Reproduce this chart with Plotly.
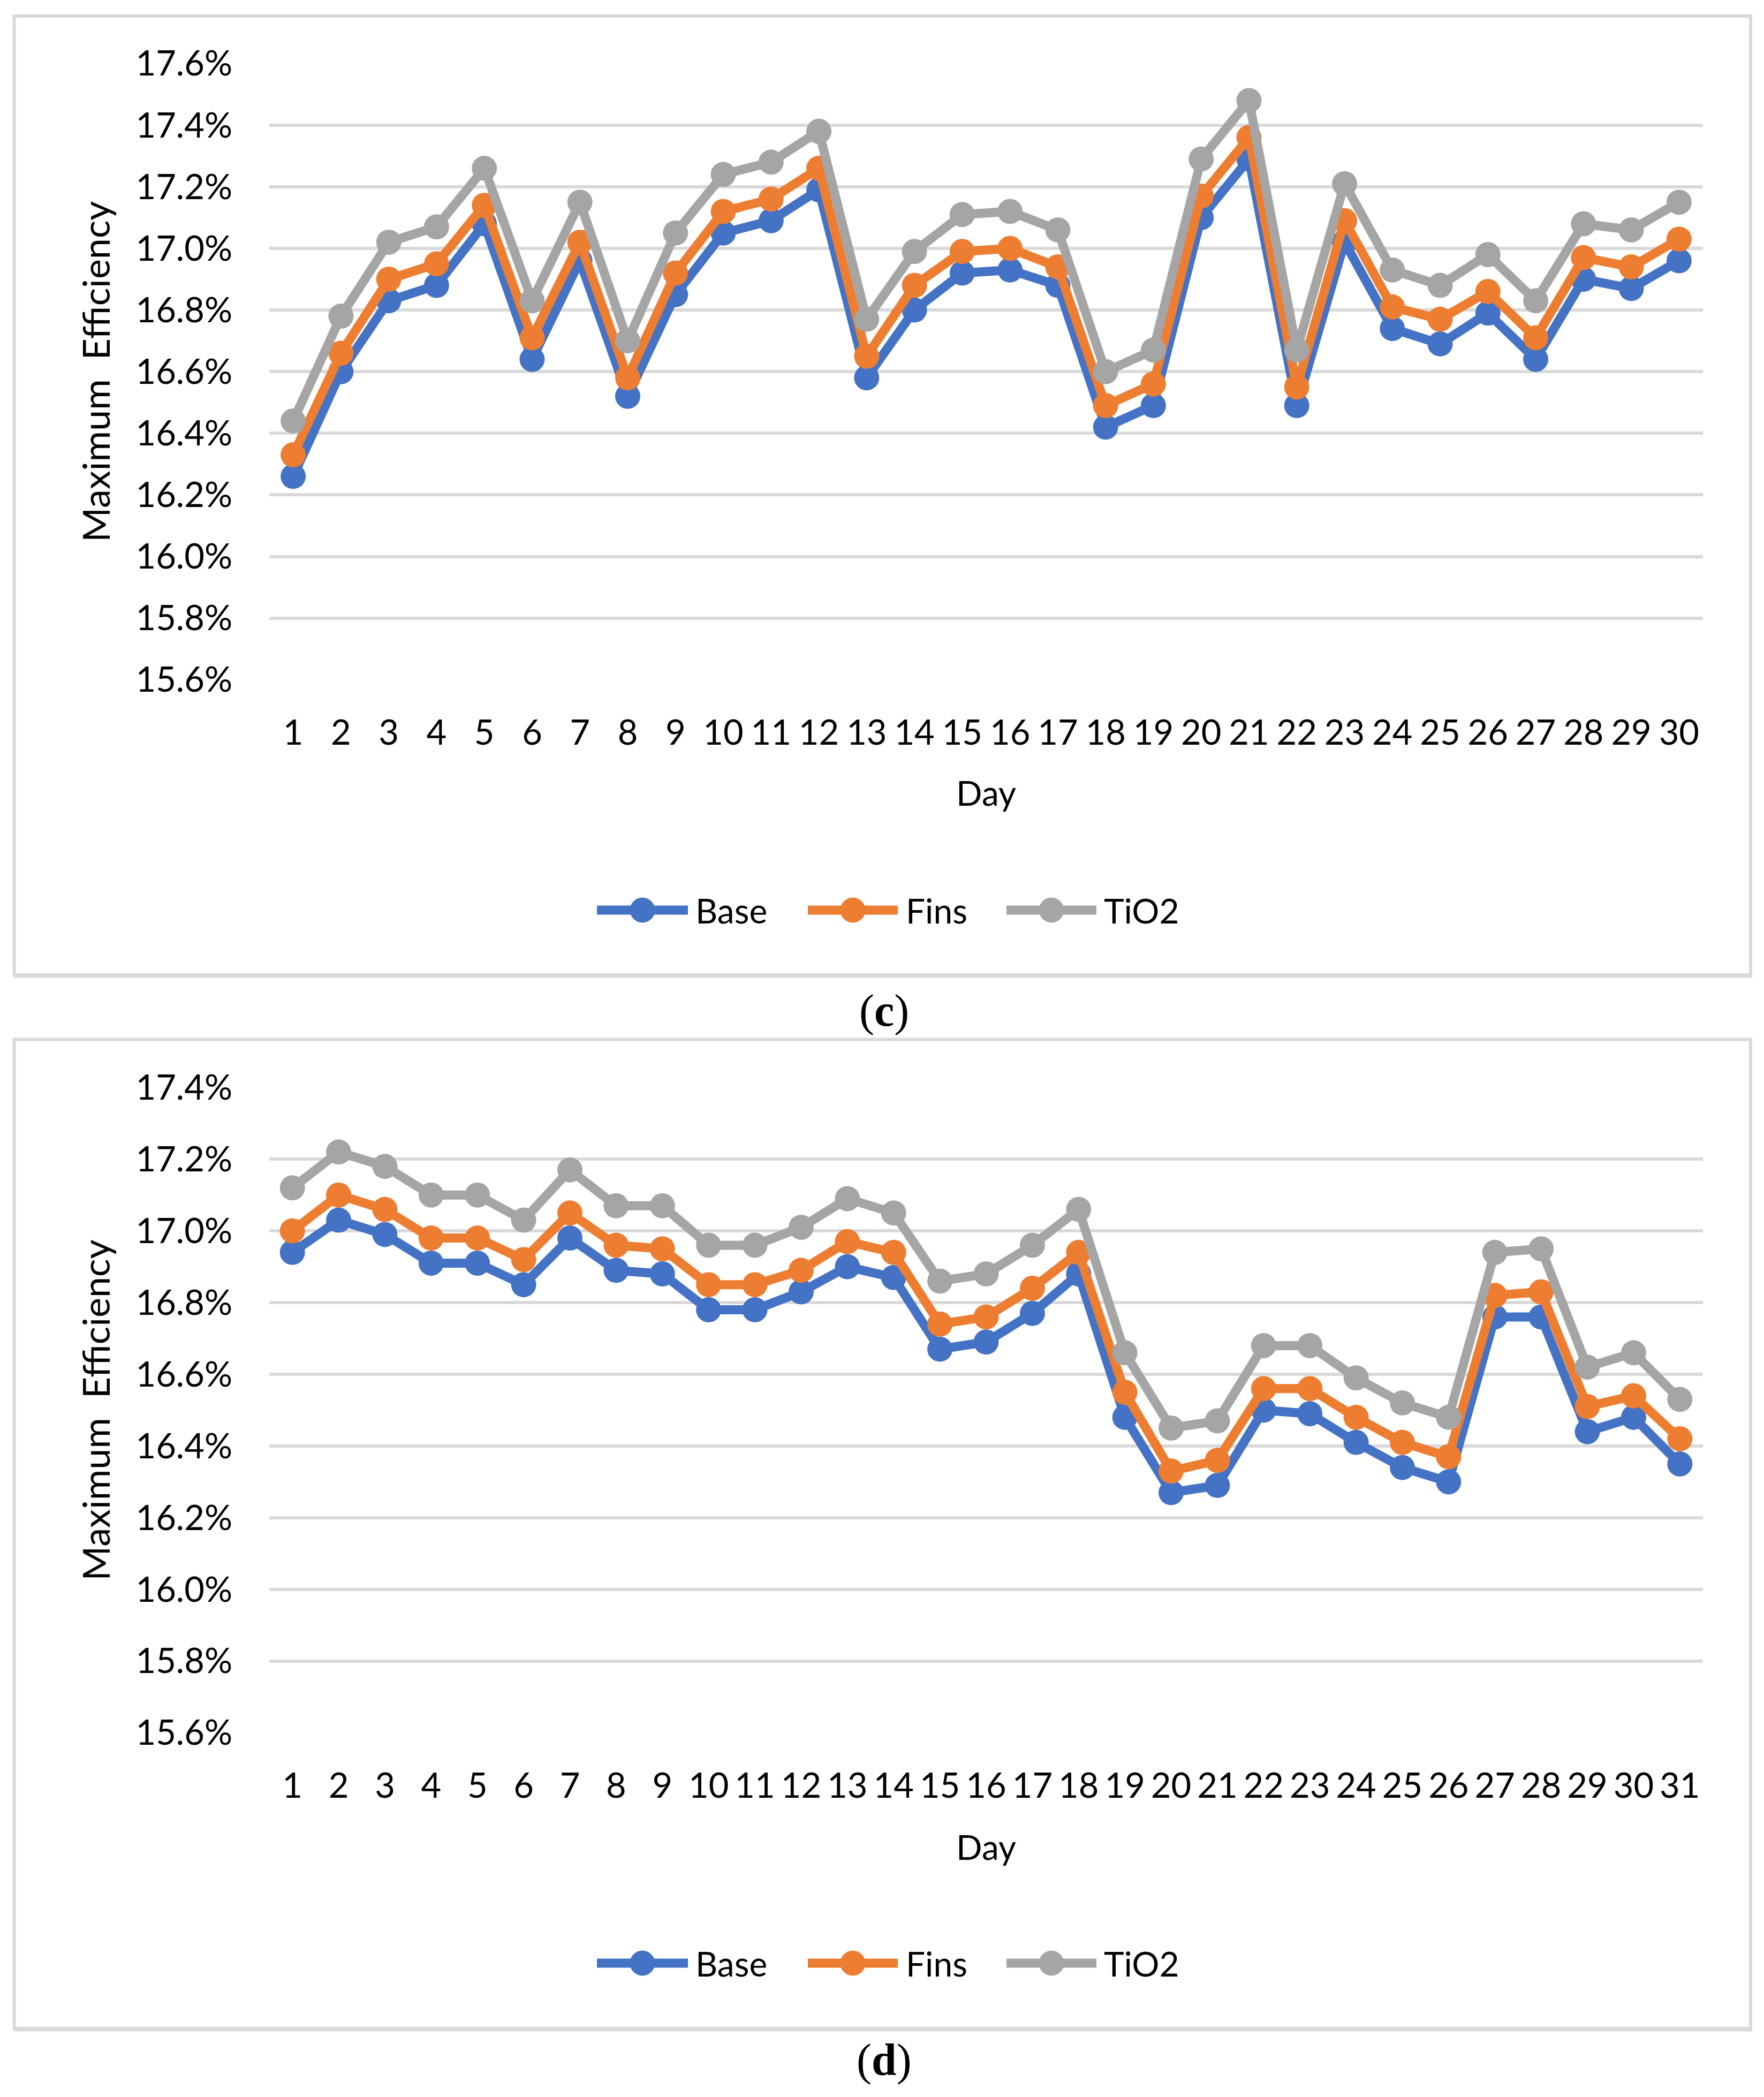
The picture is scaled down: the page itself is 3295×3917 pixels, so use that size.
import plotly.graph_objects as go

W, H = 3295, 3917
OFF = 8  # page body margin of the written html

# ---------------- data ----------------
days_c = list(range(1, 31))
days_d = list(range(1, 32))

base_c = [16.26, 16.60, 16.83, 16.88, 17.08, 16.64, 16.96, 16.52, 16.85, 17.05,
          17.09, 17.19, 16.58, 16.80, 16.92, 16.93, 16.88, 16.42, 16.49, 17.10,
          17.29, 16.49, 17.02, 16.74, 16.69, 16.79, 16.64, 16.90, 16.87, 16.96]
fins_c = [16.33, 16.66, 16.90, 16.95, 17.14, 16.71, 17.02, 16.58, 16.92, 17.12,
          17.16, 17.26, 16.65, 16.88, 16.99, 17.00, 16.94, 16.49, 16.56, 17.17,
          17.36, 16.55, 17.09, 16.81, 16.77, 16.86, 16.71, 16.97, 16.94, 17.03]
tio2_c = [16.44, 16.78, 17.02, 17.07, 17.26, 16.83, 17.15, 16.70, 17.05, 17.24,
          17.28, 17.38, 16.77, 16.99, 17.11, 17.12, 17.06, 16.60, 16.67, 17.29,
          17.48, 16.67, 17.21, 16.93, 16.88, 16.98, 16.83, 17.08, 17.06, 17.15]

base_d = [16.94, 17.03, 16.99, 16.91, 16.91, 16.85, 16.98, 16.89, 16.88, 16.78,
          16.78, 16.83, 16.90, 16.87, 16.67, 16.69, 16.77, 16.88, 16.48, 16.27,
          16.29, 16.50, 16.49, 16.41, 16.34, 16.30, 16.76, 16.76, 16.44, 16.48, 16.35]
fins_d = [17.00, 17.10, 17.06, 16.98, 16.98, 16.92, 17.05, 16.96, 16.95, 16.85,
          16.85, 16.89, 16.97, 16.94, 16.74, 16.76, 16.84, 16.94, 16.55, 16.33,
          16.36, 16.56, 16.56, 16.48, 16.41, 16.37, 16.82, 16.83, 16.51, 16.54, 16.42]
tio2_d = [17.12, 17.22, 17.18, 17.10, 17.10, 17.03, 17.17, 17.07, 17.07, 16.96,
          16.96, 17.01, 17.09, 17.05, 16.86, 16.88, 16.96, 17.06, 16.66, 16.45,
          16.47, 16.68, 16.68, 16.59, 16.52, 16.48, 16.94, 16.95, 16.62, 16.66, 16.53]

series_names = ["Base", "Fins", "TiO2"]
colors = ["#4472C4", "#ED7D31", "#A5A5A5"]
captions = ["c", "d"]
x_title = "Day"
y_title = "Maximum\u00a0 Efficiency"

# ---------------- helpers ----------------
def px(x):
    return (x - OFF) / W


def py(y):
    return 1 - (y - OFF) / H


FONT = "Lato"
GRID = "#D9D9D9"
LW = 17
MS = 47

fig = go.Figure()
for name, col, vals in zip(series_names, colors, [base_c, fins_c, tio2_c]):
    fig.add_trace(go.Scatter(x=days_c, y=vals, name=name, mode="lines+markers",
                             line=dict(color=col, width=LW),
                             marker=dict(color=col, size=MS),
                             xaxis="x", yaxis="y", showlegend=False))
for name, col, vals in zip(series_names, colors, [base_d, fins_d, tio2_d]):
    fig.add_trace(go.Scatter(x=days_d, y=vals, name=name, mode="lines+markers",
                             line=dict(color=col, width=LW),
                             marker=dict(color=col, size=MS),
                             xaxis="x2", yaxis="y2", showlegend=False))

tickfont = dict(family=FONT, size=65, color="black")
xtitlefont = dict(family=FONT, size=64, color="black")
ytitlefont = dict(family=FONT, size=70, color="black")


def xaxis(days, anchor, title_standoff):
    return dict(domain=[px(503), px(3181)], range=[0.5, len(days) + 0.5],
                tickmode="array", tickvals=days, showgrid=False, zeroline=False,
                showline=False, ticks="", tickfont=tickfont, anchor=anchor,
                ticklabelstandoff=55, automargin=False,
                title=dict(text=x_title, font=xtitlefont, standoff=title_standoff))


def yaxis(top_px, bot_px, ymax, anchor):
    return dict(domain=[py(bot_px), py(top_px)], range=[15.5995, ymax + 0.0005],
                tick0=15.6, dtick=0.2, tickformat=".1f", ticksuffix="%",
                showgrid=True, gridcolor=GRID, gridwidth=6, zeroline=False,
                showline=False, ticks="", tickfont=tickfont, anchor=anchor,
                ticklabelstandoff=68, automargin=False,
                title=dict(text=y_title, font=ytitlefont, standoff=24))


shapes = []
annotations = []

panels = [  # outer frame top/bottom, legend centre y, caption centre y
    dict(top=30, bottom=1821, leg=1700, cap=1888),
    dict(top=1941.5, bottom=3789, leg=3667, cap=3848),
]
leg_lines = [(1111, 1289), (1505, 1681), (1876, 2052)]
leg_text_x = [1301, 1694, 2064]

for i, p in enumerate(panels):
    shapes.append(dict(type="rect", xref="paper", yref="paper",
                       x0=px(26.5), x1=px(3270), y0=py(p["bottom"]), y1=py(p["top"]),
                       line=dict(color=GRID, width=6), fillcolor="rgba(0,0,0,0)",
                       layer="below"))
    # slightly heavier bottom edge (frame shadow)
    shapes.append(dict(type="line", xref="paper", yref="paper",
                       x0=px(26.5), x1=px(3273), y0=py(p["bottom"] + 1.5),
                       y1=py(p["bottom"] + 1.5),
                       line=dict(color=GRID, width=8), layer="below"))
    for (lx0, lx1), tx, col, name in zip(leg_lines, leg_text_x, colors, series_names):
        cy = p["leg"]
        shapes.append(dict(type="line", xref="paper", yref="paper",
                           x0=px(lx0 + 4), x1=px(lx1 - 4), y0=py(cy), y1=py(cy),
                           line=dict(color=col, width=LW)))
        cx = (lx0 + lx1) / 2
        r = MS / 2
        shapes.append(dict(type="circle", xref="paper", yref="paper",
                           x0=px(cx - r), x1=px(cx + r), y0=py(cy + r), y1=py(cy - r),
                           fillcolor=col, line=dict(width=0)))
        annotations.append(dict(text=name, xref="paper", yref="paper",
                                x=px(tx - 4), y=py(cy), xanchor="left", yanchor="middle",
                                showarrow=False, font=dict(family=FONT, size=64, color="black")))
    annotations.append(dict(text="(<b>%s</b>)" % captions[i], xref="paper", yref="paper",
                            x=px(1651), y=py(p["cap"]), xanchor="center", yanchor="middle",
                            showarrow=False,
                            font=dict(family="Liberation Serif", size=84, color="black")))

fig.update_layout(
    width=W, height=H, margin=dict(l=0, r=0, t=0, b=0, pad=0, autoexpand=False),
    paper_bgcolor="white", plot_bgcolor="white", showlegend=False,
    xaxis=xaxis(days_c, "y", 56),
    yaxis=yaxis(118.4, 1270, 17.6, "x"),
    xaxis2=xaxis(days_d, "y2", 58),
    yaxis2=yaxis(2031, 3237, 17.4, "x2"),
    shapes=shapes, annotations=annotations,
)

fig.write_html("out.html")
